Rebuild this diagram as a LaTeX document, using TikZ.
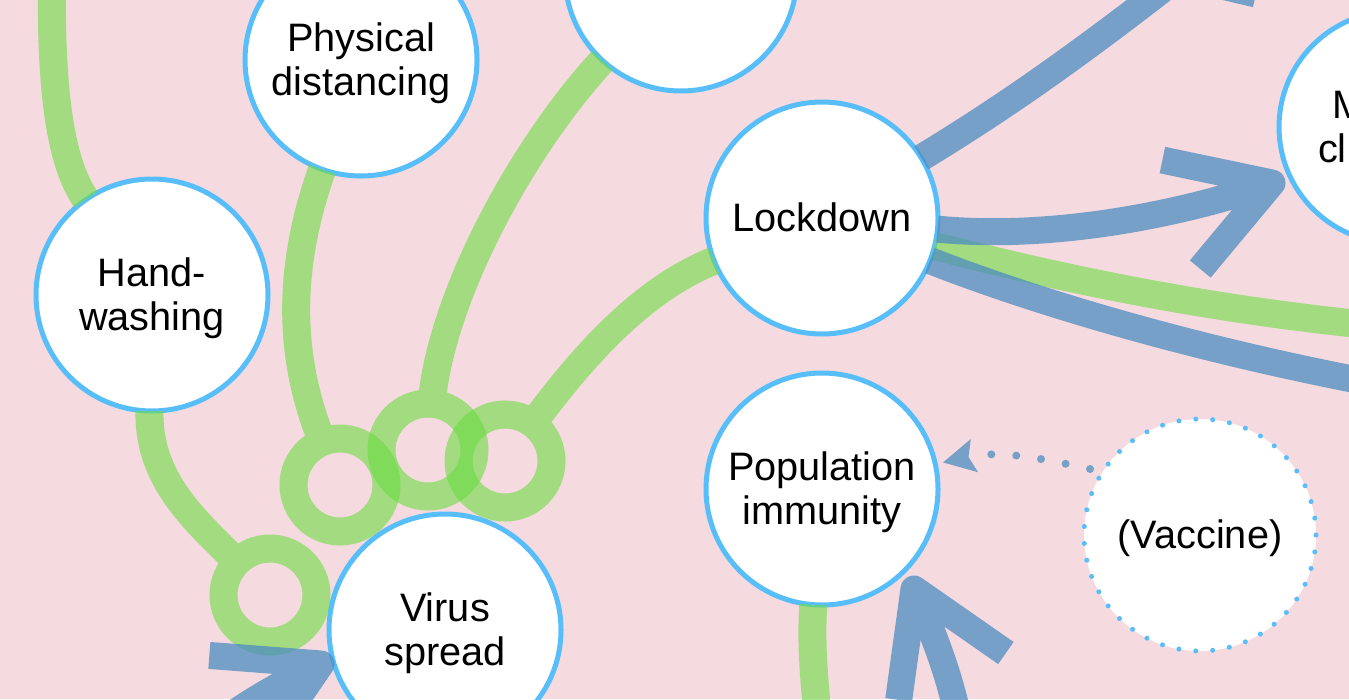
\documentclass[tikz,border=0pt]{standalone}
\usepackage{fontspec}
\setmainfont{Liberation Sans}
\usetikzlibrary{calc,arrows.meta}
\definecolor{bgpink}{RGB}{245,218,223}
\definecolor{ringblue}{RGB}{88,190,250}
\definecolor{lgreen}{RGB}{108,220,65}
\definecolor{lblue}{RGB}{77,141,194}
\definecolor{dotblue}{RGB}{119,160,201}
\newcommand\mystrut{\rule[-8.4pt]{0pt}{44.3pt}}
\begin{document}
\begin{tikzpicture}[x=1pt,y=-1pt,
  bubble/.style={circle,draw=ringblue,line width=5pt,fill=white,minimum size=232pt,
    inner sep=0pt,outer sep=0pt,align=center,text=black,font=\fontsize{39.7}{44.3}\selectfont},
  dotbubble/.style={bubble,dash pattern=on 0pt off 16.95pt,line cap=round},
  ringpt/.style={circle,minimum size=93pt,inner sep=0pt,outer sep=0pt},
  inhib/.style={draw=lgreen,draw opacity=0.6,line width=28pt},
  promo/.style={draw=lblue,draw opacity=0.75,line width=27pt,line join=round},
  dotarrow/.style={draw=dotblue,line width=8pt,dash pattern=on 0pt off 25pt,line cap=round,
    shorten <=13pt,shorten >=8pt,-{Stealth[length=32pt,width=34pt,inset=6pt,line width=0pt,fill=dotblue]}}
  ]
\useasboundingbox (0,0) rectangle (1349,699);
\fill[bgpink] (0,0) rectangle (1349,699);
\begin{scope}
\clip (0,0) rectangle (1349,699);
% nodes
\node[bubble] (HW) at (152,295) {\mystrut Hand-\\\mystrut washing};
\node[bubble] (PD) at (361,60) {\mystrut Physical\\\mystrut distancing};
\node[bubble] (TOP) at (681,-25) {};
\node[bubble] (LD) at (822,218) {\mystrut Lockdown};
\node[bubble,text width=154pt,align=left] (MC) at (1395,127) {\mystrut\hspace*{14pt}M\\\mystrut cl};
\node[bubble] (PI) at (822,489) {\mystrut Population\\\mystrut immunity};
\node[dotbubble] (VAC) at (1200,535) {\mystrut (Vaccine)};
\node[bubble] (VS) at (445,630) {\mystrut Virus\\\mystrut spread};
% ring ends
\node[ringpt] (R1) at (340,485) {};
\node[ringpt] (R2) at (428,450) {};
\node[ringpt] (R3) at (505,461) {};
\node[ringpt] (R4) at (270,595) {};
% free ends
\coordinate (gTL) at (52,-30);
\coordinate (gR) at (1400,328);
\coordinate (gB) at (822,760);
\coordinate (bT) at (1200,-40);
\coordinate (bR) at (1400,388);
\coordinate (bS1) at (1141,-33);
\coordinate (bS2) at (1256,-6);
\coordinate (bVS0) at (170,760);
\coordinate (bPI0) at (965,760);
\coordinate (tipM) at (1272,183);
\coordinate (tipVS) at (321,664);
\coordinate (tipPI) at (914,589);
\coordinate (cM) at (1180,215);
\coordinate (cVS) at (248,699);
\coordinate (cPI) at (942,653);
% green inhibiting links
\draw[inhib] (gTL) .. controls (50,100) and (62,165) .. (HW);
\draw[inhib] (HW) .. controls (148,480) and (195,520) .. (R4) (R4.center) circle[radius=46.5pt];
\draw[inhib] (PD) .. controls (290,260) and (285,350) .. (R1) (R1.center) circle[radius=46.5pt];
\draw[inhib] (TOP) .. controls (520,150) and (440,300) .. (R2) (R2.center) circle[radius=46.5pt];
\draw[inhib] (LD) .. controls (640,290) and (580,360) .. (R3) (R3.center) circle[radius=46.5pt];
\draw[inhib] (LD) .. controls (1050,275) and (1200,310) .. (gR);
\draw[inhib] (PI) .. controls (810,650) and (816,700) .. (gB);
% blue promoting links
\draw[promo] (LD) .. controls (1000,110) and (1080,55) .. (bT);
\draw[promo] (LD) .. controls (1050,240) and (cM) .. (tipM)
  ($(tipM)!112pt!31:(cM)$) -- (tipM) -- ($(tipM)!112pt!-31:(cM)$);
\draw[promo] (LD) .. controls (1030,300) and (1200,352) .. (bR);
\draw[promo] (bS1) -- (bS2);
\draw[promo] (bVS0) .. controls (210,730) and (cVS) .. (tipVS)
  ($(tipVS)!112pt!30:(cVS)$) -- (tipVS) -- ($(tipVS)!112pt!-30:(cVS)$);
\draw[promo] (bPI0) .. controls (958,700) and (cPI) .. (tipPI)
  ($(tipPI)!112pt!31.5:(cPI)$) -- (tipPI) -- ($(tipPI)!112pt!-31.5:(cPI)$);
% dotted link from vaccine
\draw[dotarrow] (VAC.147) .. controls (1040,458) and (1000,450) .. (PI);
\end{scope}
\end{tikzpicture}
\end{document}
